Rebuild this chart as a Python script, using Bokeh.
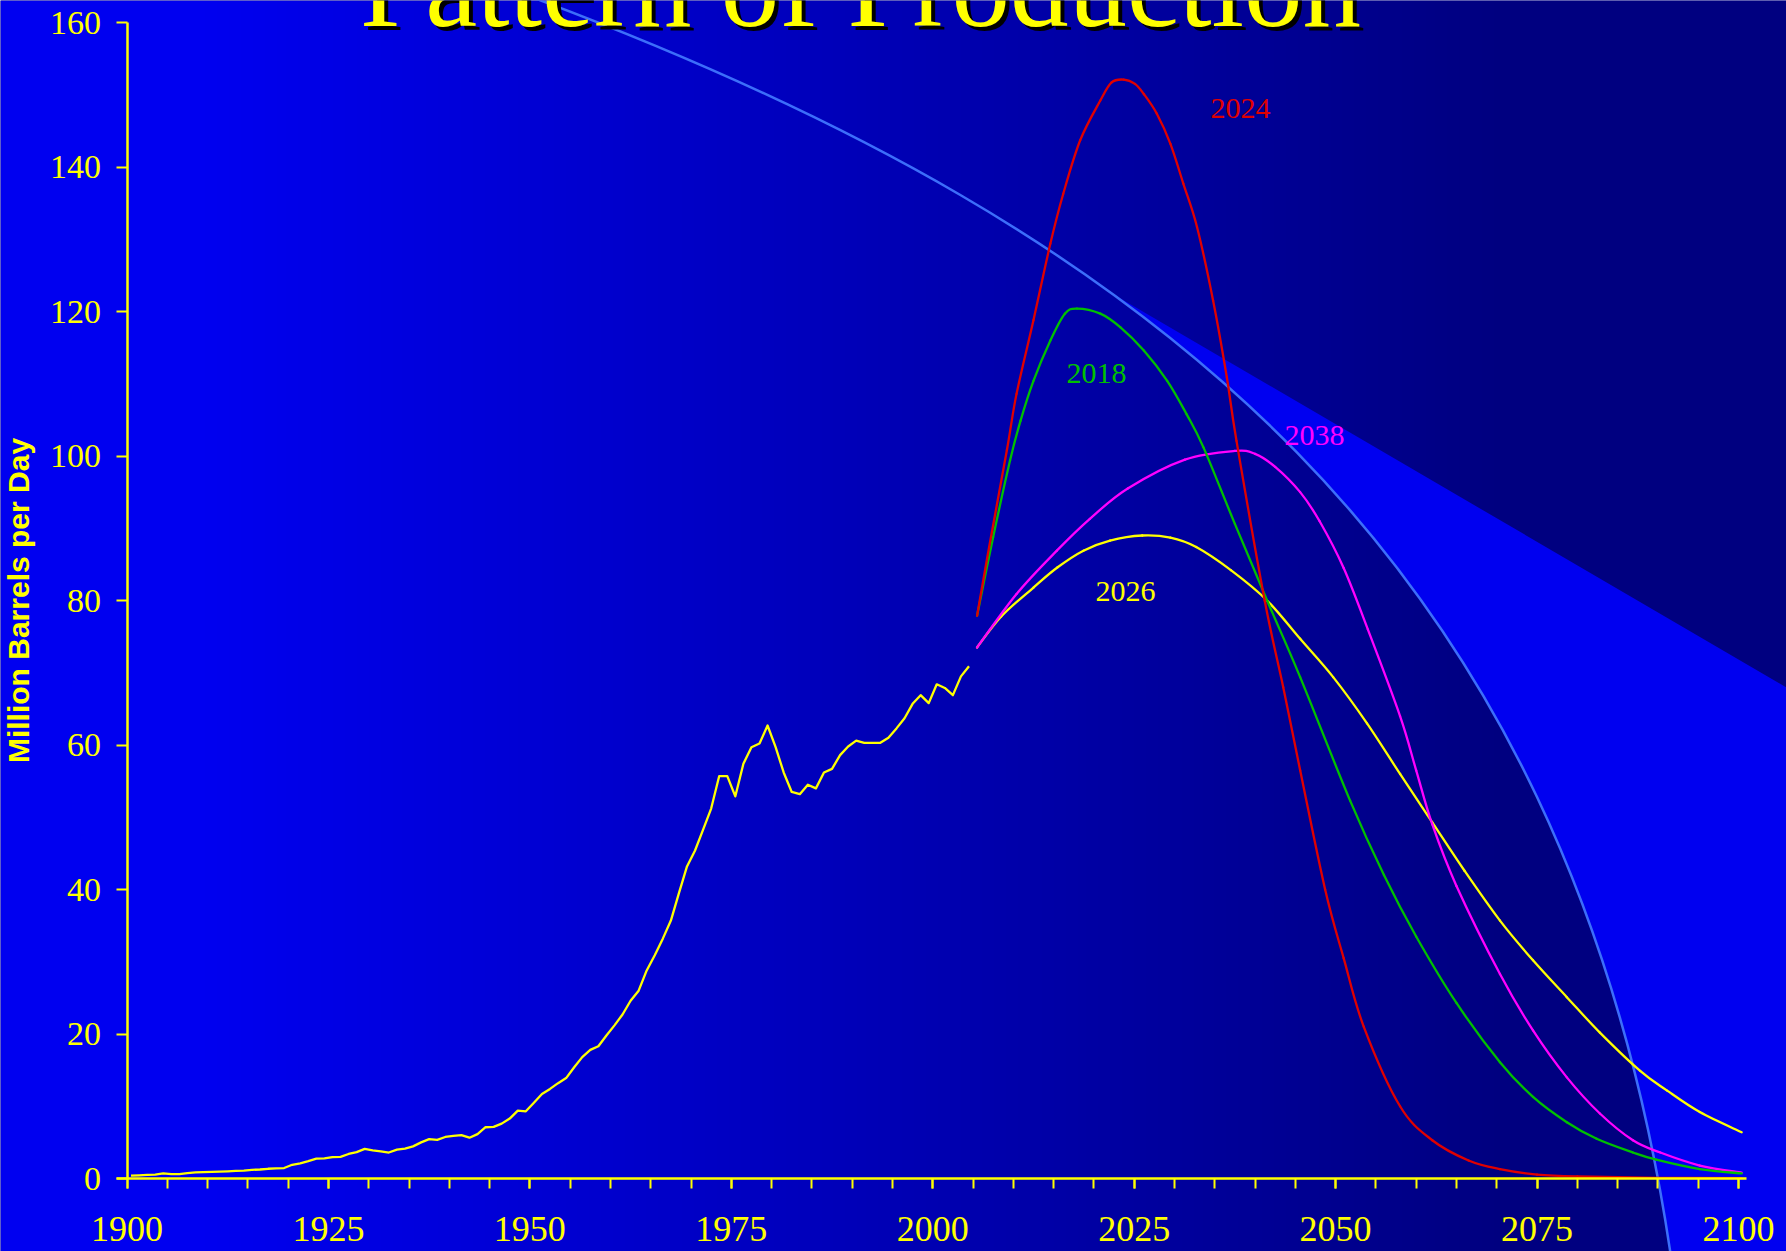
import numpy as np
from bokeh.plotting import figure
from bokeh.models import Range1d, LinearAxis, FixedTicker, Label, ColumnDataSource
from bokeh.core.properties import value
from bokeh.embed import file_html
from bokeh.resources import INLINE

# ---------------------------------------------------------------- data
hist_years = list(range(1900, 2005))
hist_mbd = [
    0.40, 0.45, 0.50, 0.55, 0.70, 0.62, 0.60, 0.75, 0.85, 0.88,
    0.92, 0.95, 1.00, 1.05, 1.10, 1.20, 1.25, 1.35, 1.40, 1.45,
    1.90, 2.10, 2.40, 2.75, 2.80, 2.95, 3.00, 3.40, 3.65, 4.10,
    3.90, 3.75, 3.60, 4.00, 4.15, 4.45, 5.00, 5.45, 5.35, 5.75,
    5.90, 6.00, 5.65, 6.15, 7.10, 7.15, 7.60, 8.30, 9.40, 9.30,
    10.5, 11.7, 12.4, 13.2, 13.9, 15.4, 16.8, 17.8, 18.3, 19.8,
    21.2, 22.7, 24.6, 26.0, 28.8, 30.9, 33.2, 35.7, 39.5, 43.2,
    45.4, 48.3, 51.2, 55.7, 55.7, 52.9, 57.4, 59.7, 60.2, 62.7,
    59.7, 56.2, 53.5, 53.2, 54.5, 54.0, 56.2, 56.7, 58.6, 59.8,
    60.6, 60.3, 60.3, 60.3, 61.0, 62.3, 63.7, 65.7, 66.9, 65.8,
    68.4, 67.9, 66.9, 69.5, 70.9,
]

# projections, labelled by their peak year
peak2024_years = [2005.5, 2007, 2009.2, 2010.4, 2012.5, 2014.6, 2016.2, 2018.3, 2020.8,
                  2022.2, 2023.7, 2025.1, 2026.2, 2027.8, 2029.5, 2031.1, 2032.8, 2034.8,
                  2036.5, 2037.7, 2041.2, 2043.5, 2045.6, 2048.7, 2051, 2053.5, 2058,
                  2062, 2066.5, 2070.4, 2075, 2080, 2090, 2100.4]
peak2024_mbd = [77.9, 87.4, 100.8, 108.6, 118.8, 129.4, 136.3, 143.7, 149.2,
                151.7, 152.1, 151.5, 150.1, 147.4, 143.2, 137.7, 131.7, 121.5,
                110.9, 102.1, 80.0, 68.0, 56.5, 40.0, 30.5, 21.0, 10.0,
                5.3, 2.5, 1.3, 0.55, 0.28, 0.1, 0.05]

peak2018_years = [2005.5, 2007.5, 2009.6, 2010.9, 2012.5, 2014.6, 2016.4, 2017.9, 2020.8,
                  2023.3, 2026.2, 2029.1, 2031.5, 2033.6, 2037.5, 2041.5, 2045.6, 2051.8,
                  2056, 2060, 2065, 2070.4, 2074.5, 2078.7, 2082.4, 2086.9, 2089.8,
                  2095.2, 2100.4]
peak2018_mbd = [77.9, 88.8, 99.4, 104.9, 110.4, 116.0, 119.7, 120.4, 119.7,
                117.8, 114.6, 110.4, 105.8, 101.2, 90.6, 80.0, 69.4, 52.3,
                42.0, 33.5, 24.3, 16.1, 11.3, 7.8, 5.5, 3.6, 2.6,
                1.3, 0.7]

peak2038_years = [2005.5, 2010.4, 2015.4, 2019.5, 2024.2, 2031.3, 2037.5, 2040, 2042.5,
                  2045.6, 2048, 2051, 2054, 2058, 2060, 2062, 2065, 2070.4, 2074.5,
                  2078.7, 2082.8, 2086.9, 2090.3, 2095.2, 2100.4]
peak2038_mbd = [73.5, 80.9, 86.9, 91.3, 95.5, 99.5, 100.7, 100.3, 98.5,
                95.0, 91.0, 84.5, 76.0, 64.0, 56.5, 49.0, 40.5, 28.3, 20.5,
                14.0, 9.0, 5.3, 3.6, 1.8, 0.8]

peak2026_years = [2005.5, 2008.5, 2012.5, 2015.5, 2018.7, 2022, 2026, 2029.5, 2032.7,
                  2037, 2041.5, 2045.6, 2049.7, 2053.9, 2058, 2062, 2066, 2070.4,
                  2074.5, 2078.7, 2082.8, 2087.8, 2091.1, 2095.2, 2100.4]
peak2026_mbd = [73.5, 77.8, 81.8, 84.6, 86.9, 88.3, 89.0, 88.7, 87.4,
                84.2, 80.0, 74.7, 69.4, 63.0, 56.0, 49.3, 42.6, 35.7,
                30.2, 25.1, 20.2, 14.9, 12.2, 9.2, 6.4]

peak_labels = ["2024", "2018", "2038", "2026"]
x_tick_years = list(range(1900, 2101, 25))
x_minor_years = list(range(1900, 2101, 5))
y_ticks = list(range(0, 161, 20))

# ---------------------------------------------------------------- canvas
W, H = 1786, 1251
X0, X1 = 1884.30, 2105.96
Y0, Y1 = -10.10, 163.045
SX = W / (X1 - X0)
SY = H / (Y1 - Y0)

YELLOW = "#FFFF00"
RED = "#E00000"
GREEN = "#00C000"
MAGENTA = "#FF00FF"
BRIGHT = "#0000F0"
ARC = "#3C6EFA"


def px_to_data(px, py):
    return X0 + np.asarray(px) / SX, Y1 - np.asarray(py) / SY


def smooth_segments(xs, ys):
    """Cubic segments through every point (a smoothed-line style)."""
    pts = np.column_stack([xs, ys]).astype(float)
    pad = np.vstack([pts[0], pts, pts[-1]])
    a, b, c, d = pad[:-3], pad[1:-2], pad[2:-1], pad[3:]
    c0 = b + (c - a) / 6.0
    c1 = c - (d - b) / 6.0
    return dict(x0=b[:, 0], y0=b[:, 1], x1=c[:, 0], y1=c[:, 1],
                cx0=c0[:, 0], cy0=c0[:, 1], cx1=c1[:, 0], cy1=c1[:, 1])


p = figure(width=W, height=H, x_range=Range1d(X0, X1), y_range=Range1d(Y0, Y1),
           x_axis_type=None, y_axis_type=None, toolbar_location=None,
           output_backend="svg", min_border=0, outline_line_color=None,
           background_fill_color="#000080", border_fill_color="#000080")

# slide background: horizontal blue-to-navy gradient
ncol = 600
cx = (np.arange(ncol) + 0.5) * W / ncol
tt = np.clip((cx - 200) / 1300, 0, 1)
rgba = np.zeros((1, ncol, 4), dtype=np.uint8)
rgba[..., 2] = np.round(240 - 112 * tt).astype(np.uint8)
rgba[..., 3] = 255
p.image_rgba(image=[rgba.view(np.uint32).reshape(1, ncol)],
             x=X0, y=Y0, dw=X1 - X0, dh=Y1 - Y0)

# decorative sweep: a bezier curve and the bright wedge to its right
ctrl = np.array([[535, -2], [1155, 230], [1567, 558], [1670, 1253]], dtype=float)
t = np.linspace(0, 1, 800)[:, None]
curve = ((1 - t) ** 3 * ctrl[0] + 3 * t * (1 - t) ** 2 * ctrl[1]
         + 3 * t ** 2 * (1 - t) * ctrl[2] + t ** 3 * ctrl[3])
i0 = int(np.argmax(curve[:, 0] >= 1110))
right_y = 690
wedge = np.vstack([curve[i0:], [[1670, H + 5], [W + 5, H + 5], [W + 5, right_y]]])
wx, wy = px_to_data(wedge[:, 0], wedge[:, 1])
p.patch(x=list(wx), y=list(wy), fill_color=BRIGHT, line_color=None)

cxd, cyd = px_to_data(ctrl[:, 0], ctrl[:, 1])
p.bezier(x0=[cxd[0]], y0=[cyd[0]], cx0=[cxd[1]], cy0=[cyd[1]],
         cx1=[cxd[2]], cy1=[cyd[2]], x1=[cxd[3]], y1=[cyd[3]],
         line_color=ARC, line_width=2.5)

# history, plotted at mid-year
p.line(x=[y + 0.5 for y in hist_years], y=hist_mbd, line_color=YELLOW,
       line_width=2.3, line_join="round")

# projections, drawn as smoothed lines
for xs, ys, col in [(peak2026_years, peak2026_mbd, YELLOW),
                    (peak2038_years, peak2038_mbd, MAGENTA),
                    (peak2018_years, peak2018_mbd, GREEN),
                    (peak2024_years, peak2024_mbd, RED)]:
    p.bezier(x0="x0", y0="y0", x1="x1", y1="y1", cx0="cx0", cy0="cy0",
             cx1="cx1", cy1="cy1", source=ColumnDataSource(smooth_segments(xs, ys)),
             line_color=col, line_width=2.3, line_cap="round")

lab_src = ColumnDataSource(dict(
    x=[2034.47, 2016.6, 2043.65, 2020.2],
    y=[148.1, 111.4, 102.9, 81.3],
    text=peak_labels,
    color=[RED, GREEN, MAGENTA, YELLOW],
))
p.text(x="x", y="y", text="text", text_color="color", source=lab_src,
       text_font=value("Liberation Serif"), text_font_size="30px",
       text_align="left", text_baseline="alphabetic")

# axes drawn inside the full-bleed frame
xaxis = LinearAxis(
    fixed_location=0, bounds=(1898.7, 2101),
    ticker=FixedTicker(ticks=x_tick_years, minor_ticks=x_minor_years),
    axis_line_color=YELLOW, axis_line_width=2.5,
    major_tick_line_color=YELLOW, major_tick_line_width=2,
    major_tick_in=0, major_tick_out=10,
    minor_tick_line_color=YELLOW, minor_tick_line_width=2,
    minor_tick_in=0, minor_tick_out=10,
    major_label_text_color=YELLOW, major_label_text_font="Liberation Serif",
    major_label_text_font_size="36px", major_label_standoff=28,
)
p.add_layout(xaxis, "below")

yaxis = LinearAxis(
    fixed_location=1900, bounds=(0, 160),
    ticker=FixedTicker(ticks=y_ticks),
    axis_line_color=YELLOW, axis_line_width=2.5,
    major_tick_line_color=YELLOW, major_tick_line_width=2,
    major_tick_in=0, major_tick_out=11,
    minor_tick_line_color=None,
    major_label_text_color=YELLOW, major_label_text_font="Liberation Serif",
    major_label_text_font_size="34px", major_label_standoff=15,
    axis_label="Million Barrels per Day", axis_label_text_color=YELLOW,
    axis_label_text_font="Liberation Sans", axis_label_text_font_style="bold",
    axis_label_text_font_size="30px", axis_label_standoff=13,
)
p.add_layout(yaxis, "left")

# title with drop shadow, running off the top edge
title_kw = dict(x_units="screen", y_units="screen", text="Pattern of Production",
                text_align="center", text_baseline="alphabetic",
                text_font="Liberation Serif", text_font_size="117px")
p.add_layout(Label(x=864, y=H + 10, text_color="#000000", **title_kw))
p.add_layout(Label(x=860, y=H + 14, text_color=YELLOW, **title_kw))

open("out.html", "w").write(file_html(p, INLINE))
